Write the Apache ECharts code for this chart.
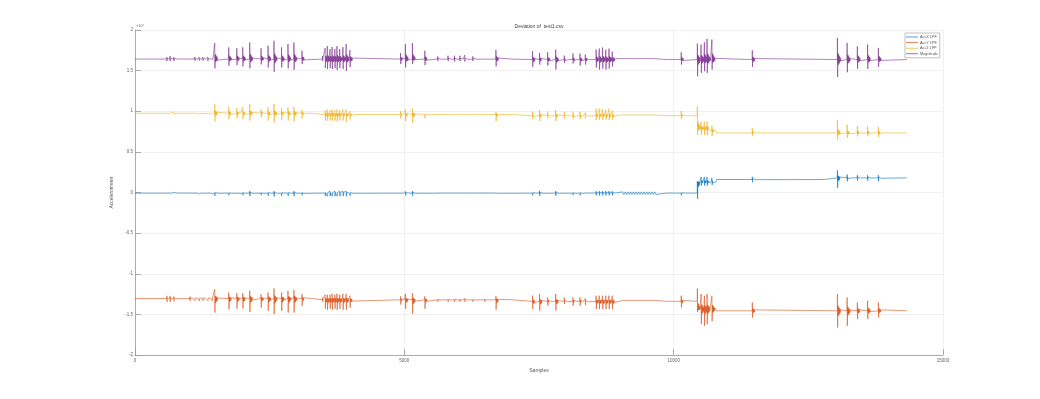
<!DOCTYPE html>
<html>
<head>
<meta charset="utf-8">
<script src="https://cdn.jsdelivr.net/npm/echarts@6/dist/echarts.min.js"></script>
<style>html,body{margin:0;padding:0;background:#fff}#c{width:1040px;height:399px}</style>
</head>
<body>
<div id="c"></div>
<script>
// ---- data (raw sensor counts; axis shows x10^4) ----
const seriesNames = ['AccX LPF', 'AccY LPF', 'AccZ LPF', 'Magnitude'];
const xTicks = [0, 5000, 10000, 15000];
const yTicks = [-20000, -15000, -10000, -5000, 0, 5000, 10000, 15000, 20000];
const lastSample = 14330;

// sample positions of the tap events (shared by all channels)
const spikePos = [590,650,720, 1020,1110,1190,1260,1350,1430,
  1480,1740,1890,2000,2130,2340,2470,2580,2720,2840,2950,3100,
  3480,3530,3570,3620,3660,3710,3750,3800,3860,3920,3990,
  4930,5020,5150,5380,
  5620,5810,5930,6030,6120,6270,6490,6700,
  7380,7510,7660,7810,7970,8130,8260,8360,
  8560,8620,8680,8740,8800,8860,
  9860,10140,
  10440,10510,10570,10620,10710,
  11460,
  13040,13220,13410,13600,13800];
// small ripple section
const wavePos = [9050,9100,9150,9200,9250,9300,9350,9400,9450,9500,9550,9600,9650];

// resting levels: [sample where level starts, level]
const accXLevels = [[0,-80],[10440,1300],[10800,1600],[12800,1800]];
const accYLevels = [[0,-13050],[3300,-13200],[7000,-13400],[10440,-14350],[10800,-14560]];
const accZLevels = [[0,9750],[3300,9600],[7000,9450],[10440,7900],[10650,7600],[10800,7330]];
const magLevels  = [[0,16420],[7000,16360]];

// per-event peak excursions [above, below] the resting level
const accXSpikes = [[90,90],[90,90],[90,90],
  [90,90],[90,90],[90,90],[90,90],[90,90],[90,90],
  [250,330],[160,250],[160,210],[160,250],[250,370],[120,250],[210,330],[250,410],[160,330],[210,330],[250,370],[160,250],
  [120,120],[250,370],[250,370],[250,370],[250,370],[250,370],[250,370],[250,370],[250,370],[250,370],[210,330],
  [120,160],[210,280],[250,330],[210,210],
  [90,90],[90,90],[90,90],[90,90],[90,90],[90,90],[120,120],[210,210],
  [210,280],[280,330],[160,210],[250,330],[160,210],[160,250],[160,250],[120,210],
  [250,280],[250,280],[250,280],[250,280],[250,280],[250,280],
  [90,90],[210,280],
  [100,2070],[620,450],[620,450],[620,450],[490,370],
  [330,330],
  [930,1230],[410,420],[330,330],[330,330],[330,410]];
const accYSpikes = [[330,410],[330,410],[250,330],
  [250,280],[250,280],[250,280],[250,280],[250,280],[250,280],
  [1140,1720],[740,1320],[650,1230],[650,1230],[950,1640],[530,1110],[740,1510],[1230,1930],[740,1510],[950,1720],[1070,1720],[530,900],
  [250,250],[620,1110],[620,1230],[620,1110],[740,1230],[620,1110],[740,1230],[620,1110],[740,1230],[740,1230],[490,980],
  [410,580],[740,1110],[820,1720],[410,1110],
  [180,250],[180,250],[180,250],[180,250],[180,250],[180,250],[180,250],[450,1230],
  [700,950],[900,1140],[490,530],[900,1140],[490,330],[490,530],[490,530],[370,450],
  [700,950],[700,950],[700,950],[700,950],[700,950],[700,950],
  [120,120],[700,740],
  [2530,370],[1850,1850],[1640,2050],[1850,1850],[1640,1480],
  [1020,820],
  [2050,2050],[1640,1850],[1020,1020],[1230,1020],[1020,820]];
const accZSpikes = [[180,120],[180,120],[180,120],
  [120,120],[120,120],[120,120],[120,120],[120,120],[120,120],
  [1140,1020],[820,740],[620,620],[740,740],[1140,900],[490,490],[740,900],[1140,1140],[620,820],[740,900],[820,1020],[410,620],
  [180,180],[490,740],[620,740],[490,740],[620,740],[490,740],[620,860],[490,740],[620,740],[620,860],[410,620],
  [410,490],[620,820],[740,1020],[210,490],
  [180,180],[180,180],[180,180],[180,180],[180,180],[180,180],[180,180],[330,820],
  [490,410],[700,650],[490,330],[700,650],[490,330],[490,410],[490,410],[410,330],
  [860,530],[860,490],[860,530],[740,490],[860,530],[620,490],
  [120,120],[580,410],
  [2690,820],[820,820],[820,820],[820,860],[620,620],
  [620,330],
  [1560,820],[1020,620],[820,410],[820,410],[740,490]];
const magSpikes = [[250,250],[370,250],[250,250],
  [180,180],[250,180],[250,180],[250,180],[250,250],[180,120],
  [1970,1140],[1440,820],[1320,740],[1440,900],[2050,1140],[1320,650],[1640,1020],[2250,1560],[1440,1020],[1850,1140],[2050,1320],[1020,620],
  [370,250],[1350,1110],[1600,1230],[1230,1110],[1480,1230],[1230,1110],[1600,1350],[1230,1110],[1480,1230],[1850,1480],[1110,980],
  [740,620],[1850,1020],[1970,620],[1020,740],
  [330,250],[410,250],[410,310],[410,250],[490,310],[330,250],[210,180],[1140,900],
  [1020,900],[820,620],[900,740],[1230,1230],[490,410],[740,490],[740,740],[620,620],
  [1230,980],[1350,1230],[1480,1110],[1230,1230],[1350,1110],[980,860],
  [180,180],[900,620],
  [1970,2050],[1850,1640],[2130,1440],[2550,1640],[2460,1230],
  [1140,900],
  [2670,2130],[2050,1560],[1640,1140],[1850,1140],[1440,900]];
const waveAmp = [160, 120, 90, 120]; // AccX, AccY, AccZ, Magnitude

// ---- build polylines ----
const ringing = [[0,1],[4,-1],[10,0.3],[16,-0.3],[22,0.24],[28,-0.24],[34,0.17],[40,-0.17],[46,0.11],[52,-0.11],[58,0.06],[64,-0.06],[72,0]];
function levelAt(levels, x) {
  let v = levels[0][1];
  for (const [s, l] of levels) if (s <= x) v = l;
  return v;
}
function build(levels, spikes, wAmp) {
  const blocks = [];
  spikePos.forEach((p, i) => {
    const [up, dn] = spikes[i];
    const b = levelAt(levels, p);
    const pts = [[p - 2, levelAt(levels, p - 2)]];
    ringing.forEach(([dx, k]) => pts.push([p + dx, b + (k >= 0 ? k * up : k * dn)]));
    blocks.push(pts);
  });
  wavePos.forEach(p => {
    const b = levelAt(levels, p);
    blocks.push([[p, b + wAmp], [p + 25, b - wAmp]]);
  });
  levels.forEach(([s]) => {
    if (s > 0 && spikePos.indexOf(s) < 0) blocks.push([[s - 1, levelAt(levels, s - 1)], [s, levelAt(levels, s)]]);
  });
  blocks.sort((a, b) => a[0][0] - b[0][0]);
  const out = [[0, levelAt(levels, 0)]];
  blocks.forEach((blk, i) => {
    const next = i + 1 < blocks.length ? blocks[i + 1][0][0] : Infinity;
    blk.forEach(pt => { if (pt[0] < next) out.push(pt); });
  });
  out.push([lastSample, levelAt(levels, lastSample)]);
  return out;
}
const dataSets = [
  build(accXLevels, accXSpikes, waveAmp[0]),
  build(accYLevels, accYSpikes, waveAmp[1]),
  build(accZLevels, accZSpikes, waveAmp[2]),
  build(magLevels, magSpikes, waveAmp[3])
];
const colors = ['#0072BD', '#D95319', '#EDB120', '#7E2F8E'];

const FONT = 'Liberation Sans, Arial, Helvetica, sans-serif';
const chart = echarts.init(document.getElementById('c'), null, { renderer: 'canvas' });
chart.setOption({
  animation: false,
  color: colors,
  grid: { left: 135, right: 97, top: 30, bottom: 44, containLabel: false },
  xAxis: {
    type: 'value', min: xTicks[0], max: xTicks[xTicks.length - 1], interval: 5000,
    name: 'Samples', nameLocation: 'middle', nameGap: 10,
    nameTextStyle: { fontFamily: FONT, fontSize: 5, color: '#555' },
    axisLine: { show: true, onZero: false, lineStyle: { color: '#9a9a9a', width: 0.8 } },
    axisTick: { show: true, inside: true, length: 6, lineStyle: { color: '#9a9a9a', width: 0.8 } },
    axisLabel: { fontFamily: FONT, fontSize: 4.5, color: '#666', margin: 3, formatter: v => String(v) },
    splitLine: { show: true, lineStyle: { color: '#ececec', width: 0.8 } }
  },
  yAxis: {
    type: 'value', min: yTicks[0], max: yTicks[yTicks.length - 1], interval: 5000,
    name: 'Accelerometer', nameLocation: 'middle', nameGap: 11, nameRotate: 90,
    nameTextStyle: { fontFamily: FONT, fontSize: 5, color: '#555' },
    axisLine: { show: true, onZero: false, lineStyle: { color: '#9a9a9a', width: 0.8 } },
    axisTick: { show: true, inside: true, length: 6, lineStyle: { color: '#9a9a9a', width: 0.8 } },
    axisLabel: { fontFamily: FONT, fontSize: 4.5, color: '#666', margin: 2, formatter: v => String(v / 10000) },
    splitLine: { show: true, lineStyle: { color: '#ececec', width: 0.8 } }
  },
  legend: {
    orient: 'vertical', left: 905, top: 33,
    data: seriesNames.map(n => ({ name: n, icon: 'rect' })),
    itemWidth: 12, itemHeight: 0.7, itemGap: 1.6,
    padding: [2, 2, 2, 1],
    backgroundColor: '#fff', borderColor: '#b0b0b0', borderWidth: 0.8,
    textStyle: { fontFamily: FONT, fontSize: 3.8, color: '#555', padding: [0, 0, 0, -3], lineHeight: 4 }
  },
  graphic: [
    { type: 'text', x: 539, y: 27, style: { text: 'Deviation of  test1.csv', align: 'center', verticalAlign: 'middle', fontFamily: FONT, fontSize: 5, fill: '#444' } },
    { type: 'text', x: 136, y: 26, style: { text: '×10⁴', align: 'left', verticalAlign: 'middle', fontFamily: FONT, fontSize: 4, fill: '#666' } }
  ],
  series: seriesNames.map((n, i) => ({
    name: n, type: 'line', data: dataSets[i], symbol: 'none', showSymbol: false,
    sampling: null, lineStyle: { width: 0.6, color: colors[i] }, z: 2 + i
  }))
});
</script>
</body>
</html>
